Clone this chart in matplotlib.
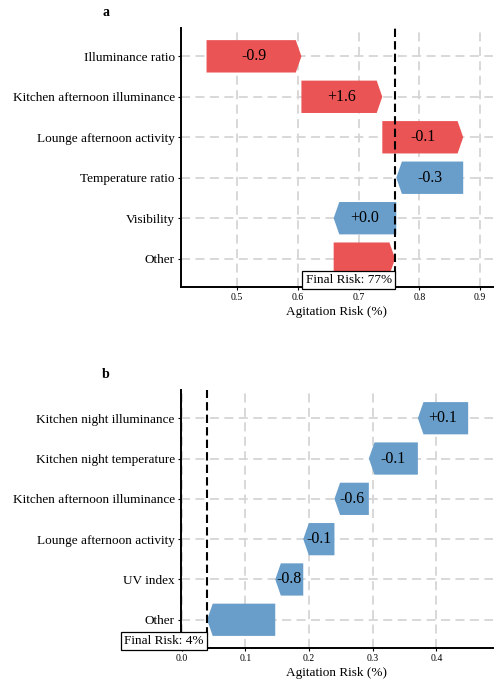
import matplotlib
matplotlib.use("Agg")
import matplotlib.pyplot as plt
from matplotlib.patches import Polygon

plt.rcParams['font.family'] = ['Liberation Serif', 'DejaVu Serif']

# Panel a data
features_a = ["Illuminance ratio", "Kitchen afternoon illuminance", "Lounge afternoon activity",
              "Temperature ratio", "Visibility", "Other"]
start_a = [0.450, 0.606, 0.739, 0.872, 0.762, 0.659]
end_a = [0.606, 0.739, 0.872, 0.762, 0.659, 0.760]
labels_a = ["-0.9", "+1.6", "-0.1", "-0.3", "+0.0", ""]
final_a = 0.760
final_text_a = "Final Risk: 77%"
xticks_a = [0.5, 0.6, 0.7, 0.8, 0.9]

# Panel b data
features_b = ["Kitchen night illuminance", "Kitchen night temperature", "Kitchen afternoon illuminance",
              "Lounge afternoon activity", "UV index", "Other"]
start_b = [0.450, 0.371, 0.294, 0.240, 0.191, 0.147]
end_b = [0.371, 0.294, 0.240, 0.191, 0.147, 0.040]
labels_b = ["+0.1", "-0.1", "-0.6", "-0.1", "-0.8", ""]
final_b = 0.040
final_text_b = "Final Risk: 4%"
xticks_b = [0.0, 0.1, 0.2, 0.3, 0.4]

RED = "#EB5455"
BLUE = "#699ECA"

W, H = 494, 686
fig = plt.figure(figsize=(W / 100, H / 100), dpi=100)


def px_axes(left, top, right, bottom):
    return fig.add_axes([left / W, 1 - bottom / H, (right - left) / W, (bottom - top) / H])


def draw_panel(ax, feats, starts, ends, labels, final, final_text, xticks, xlim, letter):
    ax.set_xlim(*xlim)
    ax.set_ylim(5.7, -0.7)
    h = 0.8
    head = 0.018 * (xlim[1] - xlim[0])
    for i, (s, e, lab) in enumerate(zip(starts, ends, labels)):
        col = RED if e > s else BLUE
        d = 1 if e > s else -1
        pts = [(s, i - h / 2), (e - d * head, i - h / 2), (e, i),
               (e - d * head, i + h / 2), (s, i + h / 2)]
        ax.add_patch(Polygon(pts, closed=True, fc=col, ec='none', zorder=2))
        if lab:
            ax.text((s + e) / 2, i, lab, ha='center', va='center', fontsize=11.5, zorder=3)
    ax.axvline(final, color='black', ls='--', lw=1.5, zorder=4, dashes=(4, 2))
    ax.annotate(final_text, xy=(final, 5.53), xytext=(-2.4, 0), textcoords='offset points',
                ha='right', va='center', fontsize=9.5, zorder=6, annotation_clip=False,
                bbox=dict(boxstyle='square,pad=0.25', fc='white', ec='black', lw=0.9))
    ax.set_yticks(range(len(feats)))
    ax.set_yticklabels(feats, fontsize=9.5)
    ax.set_xticks(xticks)
    ax.set_xticklabels([f"{t:.1f}" for t in xticks], fontsize=7)
    ax.set_xlabel("Agitation Risk (%)", fontsize=9.5, labelpad=3)
    ax.grid(True, ls=(0, (5, 3)), color='#d6d6d6', lw=1.3, zorder=0)
    ax.set_axisbelow(True)
    for sp in ['top', 'right']:
        ax.spines[sp].set_visible(False)
    for sp in ['left', 'bottom']:
        ax.spines[sp].set_linewidth(1.4)
        ax.spines[sp].set_zorder(5)
    ax.tick_params(axis='both', length=2.5, width=0.8, pad=2)
    ax.text(-0.24, 1.06, letter, transform=ax.transAxes, fontsize=10, fontweight='bold',
            ha='center', va='center')


ax1 = px_axes(181, 28, 493, 287)
draw_panel(ax1, features_a, start_a, end_a, labels_a, final_a, final_text_a, xticks_a,
           (0.408, 0.921), 'a')
ax2 = px_axes(181, 390, 493, 648)
draw_panel(ax2, features_b, start_b, end_b, labels_b, final_b, final_text_b, xticks_b,
           (-0.001, 0.489), 'b')

fig.savefig("out.png", dpi=100)
